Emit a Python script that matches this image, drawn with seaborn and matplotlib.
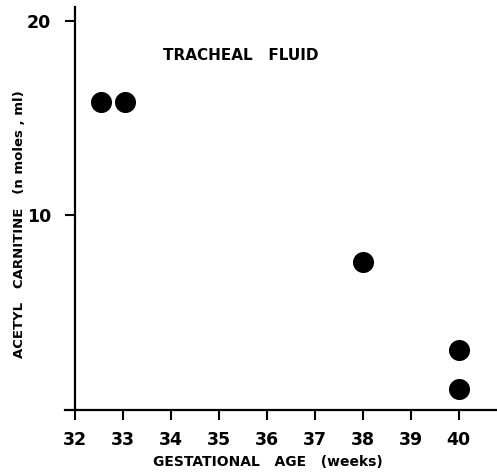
import matplotlib
matplotlib.use("Agg")
import matplotlib.pyplot as plt
import seaborn as sns
import pandas as pd

# Acetyl carnitine in tracheal fluid vs gestational age
weeks = [32.55, 33.05, 38.0, 40.0, 40.0]
acetyl_carnitine = [15.8, 15.8, 7.6, 3.1, 1.1]
x_ticks = [32, 33, 34, 35, 36, 37, 38, 39, 40]
y_ticks = [10, 20]

df = pd.DataFrame({"weeks": weeks, "carnitine": acetyl_carnitine})

sns.set_style("white")
plt.rcParams["font.family"] = ["DejaVu Sans"]
plt.rcParams["text.color"] = "black"

fig = plt.figure(figsize=(4.97, 4.73), dpi=100)
ax = fig.add_axes([65 / 497, 63 / 473, 432 / 497, 403 / 473])

sns.scatterplot(data=df, x="weeks", y="carnitine", ax=ax, s=230,
                color="black", edgecolor="black", linewidth=0, legend=False)

ax.set_xlim(31.8, 40.8)
ax.set_ylim(0, 20.7)
ax.spines["top"].set_visible(False)
ax.spines["right"].set_visible(False)
ax.spines["left"].set_position(("data", 32))
for side in ("left", "bottom"):
    ax.spines[side].set_color("black")
    ax.spines[side].set_linewidth(1.6)

ax.set_xticks(x_ticks)
ax.set_yticks(y_ticks)
ax.tick_params(axis="both", bottom=True, left=True, direction="out",
               length=7, width=1.5, colors="black", labelcolor="black",
               labelsize=12.5, pad=8)
ax.tick_params(axis="y", pad=10)
for lab in ax.get_xticklabels() + ax.get_yticklabels():
    lab.set_fontweight("bold")

ax.set_xlabel("")
ax.set_ylabel("")
fig.text(268 / 497, 1 - 462 / 473, "GESTATIONAL   AGE   (weeks)",
         ha="center", va="center", fontsize=10, fontweight="bold", color="black")
fig.text(20 / 497, 1 - 224 / 473, "ACETYL   CARNITINE   (n moles , ml)",
         ha="center", va="center", rotation=90, fontsize=9.5,
         fontweight="bold", color="black")
fig.text(241 / 497, 1 - 55 / 473, "TRACHEAL   FLUID",
         ha="center", va="center", fontsize=11, fontweight="bold", color="black")

fig.savefig("out.png", dpi=100)
